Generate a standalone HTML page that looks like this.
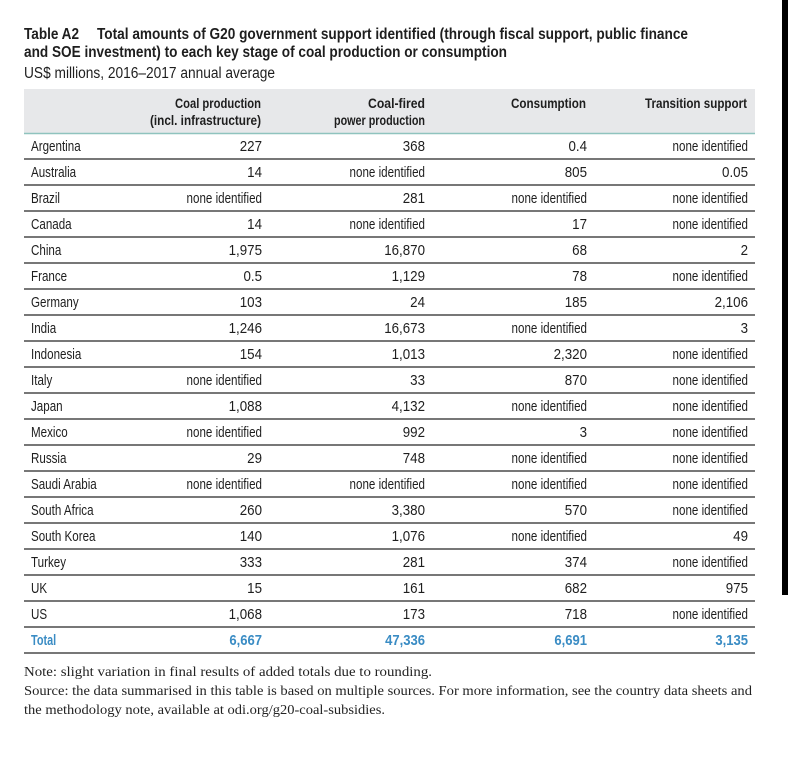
<!DOCTYPE html>
<html>
<head>
<meta charset="utf-8">
<style>
  html, body { margin: 0; padding: 0; background: #ffffff; }
  body { width: 788px; height: 775px; overflow: hidden; }
  svg { display: block; }
  .t { font-family: "Liberation Sans", sans-serif; fill: #1e1e1e; }
  .b { font-weight: bold; }
  .s { font-family: "Liberation Serif", serif; fill: #222; }
  .tot { fill: #3a8cc4; font-weight: bold; }
</style>
</head>
<body>
<svg width="788" height="775" viewBox="0 0 788 775" xmlns="http://www.w3.org/2000/svg">
  <rect x="0" y="0" width="788" height="775" fill="#ffffff"/>
  <rect x="782" y="0" width="6" height="595" fill="#000000"/>

  <!-- Title -->
  <text class="t b" x="24" y="39" font-size="15.5" textLength="55" lengthAdjust="spacingAndGlyphs">Table A2</text>
  <text class="t b" x="97" y="39" font-size="15.5" textLength="591" lengthAdjust="spacingAndGlyphs">Total amounts of G20 government support identified (through fiscal support, public finance</text>
  <text class="t b" x="24" y="57" font-size="15.5" textLength="483" lengthAdjust="spacingAndGlyphs">and SOE investment) to each key stage of coal production or consumption</text>
  <text class="t" x="24" y="78" font-size="15.5" textLength="251" lengthAdjust="spacingAndGlyphs">US$ millions, 2016–2017 annual average</text>

  <!-- Header -->
  <rect x="24" y="89" width="731" height="44" fill="#e7e8ea"/>
  <line x1="24" y1="133.5" x2="755" y2="133.5" stroke="#8fc3be" stroke-width="1.6"/>
  <text class="t b" x="175" y="108" font-size="14" textLength="86" lengthAdjust="spacingAndGlyphs">Coal production</text>
  <text class="t b" x="150" y="125" font-size="14" textLength="111" lengthAdjust="spacingAndGlyphs">(incl. infrastructure)</text>
  <text class="t b" x="368" y="108" font-size="14" textLength="57" lengthAdjust="spacingAndGlyphs">Coal-fired</text>
  <text class="t b" x="334" y="125" font-size="14" textLength="91" lengthAdjust="spacingAndGlyphs">power production</text>
  <text class="t b" x="511" y="108" font-size="14" textLength="75" lengthAdjust="spacingAndGlyphs">Consumption</text>
  <text class="t b" x="645" y="108" font-size="14" textLength="102" lengthAdjust="spacingAndGlyphs">Transition support</text>

  <!-- Row lines -->
  <g stroke="#4a4a4a" stroke-width="1.4">
    <line x1="24" y1="159" x2="755" y2="159"/>
    <line x1="24" y1="185" x2="755" y2="185"/>
    <line x1="24" y1="211" x2="755" y2="211"/>
    <line x1="24" y1="237" x2="755" y2="237"/>
    <line x1="24" y1="263" x2="755" y2="263"/>
    <line x1="24" y1="289" x2="755" y2="289"/>
    <line x1="24" y1="315" x2="755" y2="315"/>
    <line x1="24" y1="341" x2="755" y2="341"/>
    <line x1="24" y1="367" x2="755" y2="367"/>
    <line x1="24" y1="393" x2="755" y2="393"/>
    <line x1="24" y1="419" x2="755" y2="419"/>
    <line x1="24" y1="445" x2="755" y2="445"/>
    <line x1="24" y1="471" x2="755" y2="471"/>
    <line x1="24" y1="497" x2="755" y2="497"/>
    <line x1="24" y1="523" x2="755" y2="523"/>
    <line x1="24" y1="549" x2="755" y2="549"/>
    <line x1="24" y1="575" x2="755" y2="575"/>
    <line x1="24" y1="601" x2="755" y2="601"/>
    <line x1="24" y1="627" x2="755" y2="627"/>
    <line x1="24" y1="653" x2="755" y2="653"/>
  </g>

  <!-- Body: country labels (condensed via scaleX) -->
  <g class="t" font-size="14.5">
    <text transform="translate(31,151) scale(0.8,1)">Argentina</text>
    <text transform="translate(31,177) scale(0.8,1)">Australia</text>
    <text transform="translate(31,203) scale(0.8,1)">Brazil</text>
    <text transform="translate(31,229) scale(0.8,1)">Canada</text>
    <text transform="translate(31,255) scale(0.8,1)">China</text>
    <text transform="translate(31,281) scale(0.8,1)">France</text>
    <text transform="translate(31,307) scale(0.8,1)">Germany</text>
    <text transform="translate(31,333) scale(0.8,1)">India</text>
    <text transform="translate(31,359) scale(0.8,1)">Indonesia</text>
    <text transform="translate(31,385) scale(0.8,1)">Italy</text>
    <text transform="translate(31,411) scale(0.8,1)">Japan</text>
    <text transform="translate(31,437) scale(0.8,1)">Mexico</text>
    <text transform="translate(31,463) scale(0.8,1)">Russia</text>
    <text transform="translate(31,489) scale(0.8,1)">Saudi Arabia</text>
    <text transform="translate(31,515) scale(0.8,1)">South Africa</text>
    <text transform="translate(31,541) scale(0.8,1)">South Korea</text>
    <text transform="translate(31,567) scale(0.8,1)">Turkey</text>
    <text transform="translate(31,593) scale(0.8,1)">UK</text>
    <text transform="translate(31,619) scale(0.8,1)">US</text>
  </g>

  <!-- Body values -->
  <g class="t" font-size="14.5" text-anchor="end">
    <!-- Argentina -->
    <text transform="translate(262,151) scale(0.92,1)">227</text>
    <text transform="translate(425,151) scale(0.92,1)">368</text>
    <text transform="translate(587,151) scale(0.92,1)">0.4</text>
    <text transform="translate(748,151) scale(0.8,1)">none identified</text>
    <!-- Australia -->
    <text transform="translate(262,177) scale(0.92,1)">14</text>
    <text transform="translate(425,177) scale(0.8,1)">none identified</text>
    <text transform="translate(587,177) scale(0.92,1)">805</text>
    <text transform="translate(748,177) scale(0.92,1)">0.05</text>
    <!-- Brazil -->
    <text transform="translate(262,203) scale(0.8,1)">none identified</text>
    <text transform="translate(425,203) scale(0.92,1)">281</text>
    <text transform="translate(587,203) scale(0.8,1)">none identified</text>
    <text transform="translate(748,203) scale(0.8,1)">none identified</text>
    <!-- Canada -->
    <text transform="translate(262,229) scale(0.92,1)">14</text>
    <text transform="translate(425,229) scale(0.8,1)">none identified</text>
    <text transform="translate(587,229) scale(0.92,1)">17</text>
    <text transform="translate(748,229) scale(0.8,1)">none identified</text>
    <!-- China -->
    <text transform="translate(262,255) scale(0.92,1)">1,975</text>
    <text transform="translate(425,255) scale(0.92,1)">16,870</text>
    <text transform="translate(587,255) scale(0.92,1)">68</text>
    <text transform="translate(748,255) scale(0.92,1)">2</text>
    <!-- France -->
    <text transform="translate(262,281) scale(0.92,1)">0.5</text>
    <text transform="translate(425,281) scale(0.92,1)">1,129</text>
    <text transform="translate(587,281) scale(0.92,1)">78</text>
    <text transform="translate(748,281) scale(0.8,1)">none identified</text>
    <!-- Germany -->
    <text transform="translate(262,307) scale(0.92,1)">103</text>
    <text transform="translate(425,307) scale(0.92,1)">24</text>
    <text transform="translate(587,307) scale(0.92,1)">185</text>
    <text transform="translate(748,307) scale(0.92,1)">2,106</text>
    <!-- India -->
    <text transform="translate(262,333) scale(0.92,1)">1,246</text>
    <text transform="translate(425,333) scale(0.92,1)">16,673</text>
    <text transform="translate(587,333) scale(0.8,1)">none identified</text>
    <text transform="translate(748,333) scale(0.92,1)">3</text>
    <!-- Indonesia -->
    <text transform="translate(262,359) scale(0.92,1)">154</text>
    <text transform="translate(425,359) scale(0.92,1)">1,013</text>
    <text transform="translate(587,359) scale(0.92,1)">2,320</text>
    <text transform="translate(748,359) scale(0.8,1)">none identified</text>
    <!-- Italy -->
    <text transform="translate(262,385) scale(0.8,1)">none identified</text>
    <text transform="translate(425,385) scale(0.92,1)">33</text>
    <text transform="translate(587,385) scale(0.92,1)">870</text>
    <text transform="translate(748,385) scale(0.8,1)">none identified</text>
    <!-- Japan -->
    <text transform="translate(262,411) scale(0.92,1)">1,088</text>
    <text transform="translate(425,411) scale(0.92,1)">4,132</text>
    <text transform="translate(587,411) scale(0.8,1)">none identified</text>
    <text transform="translate(748,411) scale(0.8,1)">none identified</text>
    <!-- Mexico -->
    <text transform="translate(262,437) scale(0.8,1)">none identified</text>
    <text transform="translate(425,437) scale(0.92,1)">992</text>
    <text transform="translate(587,437) scale(0.92,1)">3</text>
    <text transform="translate(748,437) scale(0.8,1)">none identified</text>
    <!-- Russia -->
    <text transform="translate(262,463) scale(0.92,1)">29</text>
    <text transform="translate(425,463) scale(0.92,1)">748</text>
    <text transform="translate(587,463) scale(0.8,1)">none identified</text>
    <text transform="translate(748,463) scale(0.8,1)">none identified</text>
    <!-- Saudi Arabia -->
    <text transform="translate(262,489) scale(0.8,1)">none identified</text>
    <text transform="translate(425,489) scale(0.8,1)">none identified</text>
    <text transform="translate(587,489) scale(0.8,1)">none identified</text>
    <text transform="translate(748,489) scale(0.8,1)">none identified</text>
    <!-- South Africa -->
    <text transform="translate(262,515) scale(0.92,1)">260</text>
    <text transform="translate(425,515) scale(0.92,1)">3,380</text>
    <text transform="translate(587,515) scale(0.92,1)">570</text>
    <text transform="translate(748,515) scale(0.8,1)">none identified</text>
    <!-- South Korea -->
    <text transform="translate(262,541) scale(0.92,1)">140</text>
    <text transform="translate(425,541) scale(0.92,1)">1,076</text>
    <text transform="translate(587,541) scale(0.8,1)">none identified</text>
    <text transform="translate(748,541) scale(0.92,1)">49</text>
    <!-- Turkey -->
    <text transform="translate(262,567) scale(0.92,1)">333</text>
    <text transform="translate(425,567) scale(0.92,1)">281</text>
    <text transform="translate(587,567) scale(0.92,1)">374</text>
    <text transform="translate(748,567) scale(0.8,1)">none identified</text>
    <!-- UK -->
    <text transform="translate(262,593) scale(0.92,1)">15</text>
    <text transform="translate(425,593) scale(0.92,1)">161</text>
    <text transform="translate(587,593) scale(0.92,1)">682</text>
    <text transform="translate(748,593) scale(0.92,1)">975</text>
    <!-- US -->
    <text transform="translate(262,619) scale(0.92,1)">1,068</text>
    <text transform="translate(425,619) scale(0.92,1)">173</text>
    <text transform="translate(587,619) scale(0.92,1)">718</text>
    <text transform="translate(748,619) scale(0.8,1)">none identified</text>
  </g>

  <!-- Total row -->
  <g font-family="Liberation Sans, sans-serif" font-size="14.5" class="tot">
    <text transform="translate(31,645) scale(0.75,1)">Total</text>
    <g text-anchor="end">
      <text transform="translate(262,645) scale(0.9,1)">6,667</text>
      <text transform="translate(425,645) scale(0.9,1)">47,336</text>
      <text transform="translate(587,645) scale(0.9,1)">6,691</text>
      <text transform="translate(748,645) scale(0.9,1)">3,135</text>
    </g>
  </g>

  <!-- Footnotes -->
  <text class="s" x="24" y="676" font-size="14" textLength="408" lengthAdjust="spacingAndGlyphs">Note: slight variation in final results of added totals due to rounding.</text>
  <text class="s" x="24" y="695" font-size="14" textLength="728" lengthAdjust="spacingAndGlyphs">Source: the data summarised in this table is based on multiple sources. For more information, see the country data sheets and</text>
  <text class="s" x="24" y="714" font-size="14" textLength="361" lengthAdjust="spacingAndGlyphs">the methodology note, available at odi.org/g20-coal-subsidies.</text>
</svg>
</body>
</html>
